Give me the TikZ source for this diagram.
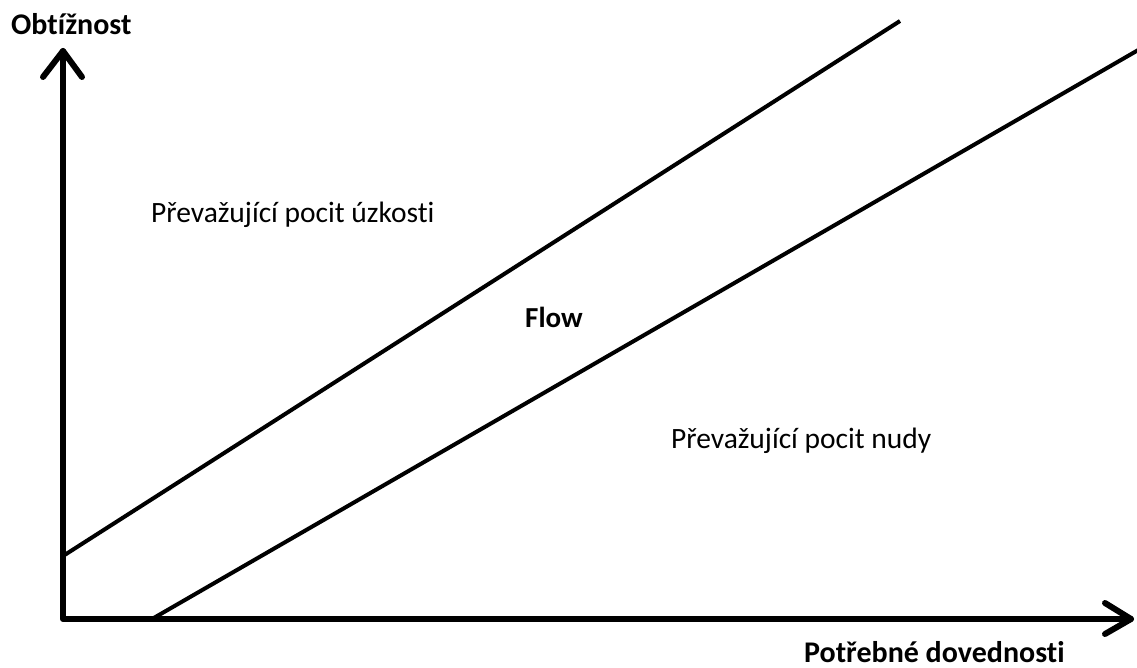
\documentclass[tikz,border=0pt]{standalone}
\usepackage{fontspec}
\setmainfont{Carlito}[Ligatures=NoCommon]
\begin{document}
\begin{tikzpicture}[x=1pt,y=-1pt,
  axis/.style={line width=6pt,line cap=round,line join=round},
  bound/.style={line width=4pt},
  region/.style={font=\fontsize{29.5}{34}\selectfont,anchor=base west,inner sep=0pt},
  axlabel/.style={font=\fontsize{30}{34}\selectfont\bfseries,anchor=base west,inner sep=0pt}]
\useasboundingbox[fill=white] (0,0) rectangle (1137,668);
% axes
\coordinate (O) at (63,619);
\coordinate (Ytip) at (63,51);
\coordinate (Xtip) at (1131,619);
\draw[axis] (Ytip) -- (O) -- (Xtip);
\draw[axis] (43,77) -- (Ytip) -- (82,77);
\draw[axis] (1105,603) -- (Xtip) -- (1105,634);
% boundaries of the flow channel
\coordinate (A1) at (63,556);
\coordinate (A2) at (900,21);
\coordinate (B1) at (152,619);
\coordinate (B2) at (1140,49);
\draw[bound] (A1) -- (A2);
\draw[bound] (B1) -- (B2);
% labels
\node[axlabel] (ylab) at (11,35) {Obtížnost};
\node[axlabel] (xlab) at (804,662) {Potřebné dovednosti};
\node[region] (anx) at (151,223) {Převažující pocit úzkosti};
\node[region] (bor) at (671,448) {Převažující pocit nudy};
\node[axlabel,font=\fontsize{29}{34}\selectfont\bfseries] (flow) at (525,327) {Flow};
\end{tikzpicture}
\end{document}
